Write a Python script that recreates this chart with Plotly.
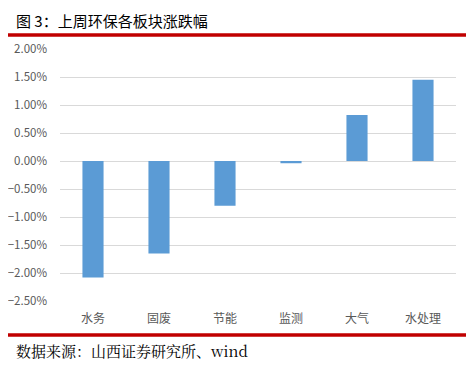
import plotly.graph_objects as go

categories = ["水务", "固废", "节能", "监测", "大气", "水处理"]
values = [-0.0208, -0.0165, -0.0080, -0.0004, 0.0082, 0.0145]
y_ticks = [0.02, 0.015, 0.01, 0.005, 0.0, -0.005, -0.01, -0.015, -0.02, -0.025]

title_text = "图 3：上周环保各板块涨跌幅"
source_text = "数据来源：山西证券研究所、wind"

# page has an 8px body margin; figure coords = page coords - 8
W, H = 466, 358
L, R, T, B = 52, 18, 41, 65
PW, PH = W - L - R, H - T - B


def px_x(x):
    return (x - L) / PW


def px_y(y):
    return (H - B - y) / PH


fig = go.Figure(go.Bar(x=categories, y=values, marker=dict(color="#5B9BD5", line=dict(width=0)),
                       width=0.32))

fig.update_layout(
    width=W, height=H,
    margin=dict(l=L, r=R, t=T, b=B, autoexpand=False),
    plot_bgcolor="white", paper_bgcolor="white",
    showlegend=False,
    font=dict(family="Noto Sans CJK SC, sans-serif", color="#595959"),
    xaxis=dict(showgrid=False, showline=False, ticks="", tickfont=dict(size=12, color="#595959"),
               ticklabelstandoff=9, automargin=False),
    yaxis=dict(range=[-0.025, 0.02], tickvals=y_ticks, tickformat=".2%",
               showgrid=True, gridcolor="#D9D9D9", gridwidth=1, zeroline=False,
               showline=False, ticks="", tickfont=dict(size=11.5, color="#595959"),
               ticklabelstandoff=12, automargin=False),
    shapes=[
        dict(type="line", xref="paper", yref="paper", x0=px_x(0), x1=px_x(W),
             y0=px_y(35 - 8), y1=px_y(35 - 8), line=dict(color="#C00000", width=3.5)),
        dict(type="line", xref="paper", yref="paper", x0=px_x(0), x1=px_x(W),
             y0=px_y(335 - 8), y1=px_y(335 - 8), line=dict(color="#C00000", width=3.5)),
    ],
    annotations=[
        dict(text=title_text, xref="paper", yref="paper", x=px_x(14 - 8), y=px_y(21 - 8),
             xanchor="left", yanchor="middle", showarrow=False,
             font=dict(size=15, color="#000000", family="Noto Sans CJK SC, sans-serif")),
        dict(text=source_text, xref="paper", yref="paper", x=px_x(14 - 8), y=px_y(350 - 8),
             xanchor="left", yanchor="middle", showarrow=False,
             font=dict(size=15, color="#000000", family="Noto Serif CJK SC, Noto Sans CJK SC, serif")),
    ],
)

fig.write_html("out.html")
